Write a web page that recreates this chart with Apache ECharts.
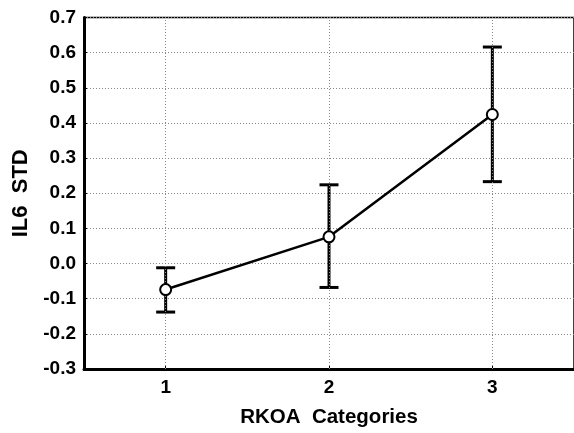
<!DOCTYPE html>
<html>
<head>
<meta charset="utf-8">
<script src="https://cdn.jsdelivr.net/npm/echarts@6/dist/echarts.min.js"></script>
<style>
html,body{margin:0;padding:0;background:#fff;}
#chart{width:574px;height:433px;}
</style>
</head>
<body>
<div id="chart"></div>
<script>
var categories = [1, 2, 3];
var means = [-0.074, 0.076, 0.424];
var upper = [-0.012, 0.224, 0.616];
var lower = [-0.138, -0.068, 0.233];
var yTicks = [-0.3, -0.2, -0.1, 0.0, 0.1, 0.2, 0.3, 0.4, 0.5, 0.6, 0.7];
var xName = 'RKOA  Categories';
var yName = 'IL6  STD';

var FONT = '"Liberation Sans", Arial, sans-serif';
var chart = echarts.init(document.getElementById('chart'), null, {renderer: 'canvas'});

var lineData = categories.map(function (c, i) { return [c, means[i]]; });
var errData = categories.map(function (c, i) { return [c, lower[i], upper[i]]; });
var gridStyle = {color: '#888', width: 1, type: [1, 2]};

chart.setOption({
  animation: false,
  backgroundColor: '#fff',
  grid: {left: 84, right: -2, top: 17.5, bottom: 62.3, show: true, borderColor: '#000', borderWidth: 1.5, backgroundColor: 'transparent'},
  xAxis: {
    type: 'value', min: 0.5, max: 3.5, interval: 0.5,
    name: xName, nameLocation: 'middle', nameGap: 38,
    nameTextStyle: {fontFamily: FONT, fontWeight: 'bold', fontSize: 20.5, color: '#000'},
    axisLine: {show: true, onZero: false, lineStyle: {color: '#000', width: 3}},
    axisTick: {show: true, inside: true, length: 3, customValues: categories, lineStyle: {color: '#000'}},
    axisLabel: {customValues: categories, margin: 9, fontFamily: FONT, fontWeight: 'bold', fontSize: 19, color: '#000',
      formatter: function (v) { return String(v); }},
    splitLine: {show: false}
  },
  yAxis: {
    type: 'value', min: -0.3, max: 0.7, interval: 0.1,
    name: yName, nameLocation: 'middle', nameGap: 51, nameRotate: 90,
    nameTextStyle: {fontFamily: FONT, fontWeight: 'bold', fontSize: 22, color: '#000'},
    axisLine: {show: true, onZero: false, lineStyle: {color: '#000', width: 3}},
    axisTick: {show: true, inside: true, length: 3, lineStyle: {color: '#000'}},
    axisLabel: {margin: 8, fontFamily: FONT, fontWeight: 'bold', fontSize: 19, color: '#000',
      formatter: function (v) { return (Math.round(v * 10) / 10).toFixed(1); }},
    splitLine: {show: true, lineStyle: gridStyle}
  },
  series: [
    {
      type: 'line', data: [], silent: true,
      markLine: {
        silent: true, symbol: 'none', label: {show: false},
        lineStyle: gridStyle,
        data: categories.map(function (c) { return {xAxis: c}; })
      }
    },
    {
      type: 'custom', z: 3,
      data: errData,
      renderItem: function (params, api) {
        var x = api.value(0);
        var lo = api.coord([x, api.value(1)]);
        var hi = api.coord([x, api.value(2)]);
        var half = 9.5;
        var st = {stroke: '#000', lineWidth: 3, fill: null};
        return {
          type: 'group',
          children: [
            {type: 'line', shape: {x1: lo[0], y1: lo[1], x2: hi[0], y2: hi[1]}, style: st},
            {type: 'line', shape: {x1: lo[0] - half, y1: lo[1], x2: lo[0] + half, y2: lo[1]}, style: st},
            {type: 'line', shape: {x1: hi[0] - half, y1: hi[1], x2: hi[0] + half, y2: hi[1]}, style: st}
          ]
        };
      }
    },
    {
      type: 'line', z: 5,
      data: lineData,
      symbol: 'circle', symbolSize: 11,
      lineStyle: {color: '#000', width: 2.5},
      itemStyle: {color: '#fff', borderColor: '#000', borderWidth: 2},
      showSymbol: true
    }
  ]
});
</script>
</body>
</html>
